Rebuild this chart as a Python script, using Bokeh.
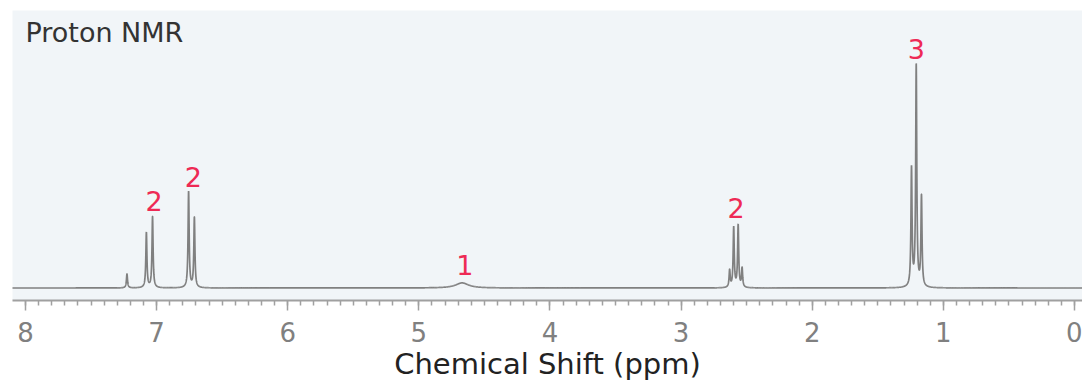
import numpy as np
from bokeh.plotting import figure
from bokeh.models import Range1d, FixedTicker, Label
from bokeh.embed import file_html
from bokeh.resources import INLINE

# Peak list (ppm, relative height with tallest = 100, half width in ppm)
peak_ppm = [7.226, 7.078, 7.031, 6.756, 6.712, 4.67, 2.630, 2.599, 2.565, 2.535, 1.243, 1.207, 1.167]
peak_height = [6.3, 24.9, 32.1, 43.4, 31.7, 2.3, 7.7, 27.1, 28.1, 8.6, 53.4, 100.0, 40.7]
peak_hwhm = [0.005, 0.005, 0.005, 0.005, 0.005, 0.06, 0.005, 0.005, 0.005, 0.005, 0.005, 0.005, 0.005]

# Integration labels
label_text = ["2", "2", "1", "2", "3"]
label_ppm = [7.02, 6.72, 4.65, 2.58, 1.207]
label_y = [39.6, 50.4, 10.2, 36.4, 108.3]

tick_values = [0, 1, 2, 3, 4, 5, 6, 7, 8]
x_title = "Chemical Shift (ppm)"
chart_title = "Proton NMR"

FONT = "DejaVu Sans"

x = np.linspace(8.2, -0.2, 40000)
y = np.zeros_like(x)
for c, h, w in zip(peak_ppm, peak_height, peak_hwhm):
    y += h / (1.0 + ((x - c) / w) ** 2)

p = figure(width=1082, height=387, output_backend="svg", toolbar_location=None,
           x_range=Range1d(8.099, -0.061), y_range=Range1d(-5.66, 125.6),
           min_border_left=12, min_border_right=0, min_border_top=10, min_border_bottom=87)
p.background_fill_color = "#f1f5f8"
p.border_fill_color = "white"
p.outline_line_color = None
p.grid.visible = False
p.yaxis.visible = False

p.line(x, y, line_color="#808080", line_width=1.7)

for t, xp, yp in zip(label_text, label_ppm, label_y):
    p.add_layout(Label(x=xp, y=yp, text=t, text_align="center", text_baseline="alphabetic",
                       text_color="#ee2a55", text_font=FONT, text_font_size="27px"))

p.add_layout(Label(x=8.0, y=122.8, text=chart_title, text_align="left", text_baseline="top",
                   text_color="#333333", text_font=FONT, text_font_size="27px"))

ax = p.xaxis[0]
ax.ticker = FixedTicker(ticks=tick_values, minor_ticks=[i / 10 for i in range(0, 82)])
ax.axis_line_color = "#a0a0a0"
ax.axis_line_width = 2
ax.major_tick_line_color = "#a0a0a0"
ax.minor_tick_line_color = "#a0a0a0"
ax.major_tick_line_width = 1.5
ax.minor_tick_line_width = 1.5
ax.major_tick_out = 10
ax.major_tick_in = 0
ax.minor_tick_out = 5
ax.minor_tick_in = 0
ax.major_label_text_font = FONT
ax.major_label_text_font_size = "26px"
ax.major_label_text_color = "#808080"
ax.major_label_standoff = 11
ax.axis_label = x_title
ax.axis_label_text_font = FONT
ax.axis_label_text_font_size = "29px"
ax.axis_label_text_font_style = "normal"
ax.axis_label_text_color = "#222222"
ax.axis_label_standoff = 2

open("out.html", "w").write(file_html(p, INLINE))
